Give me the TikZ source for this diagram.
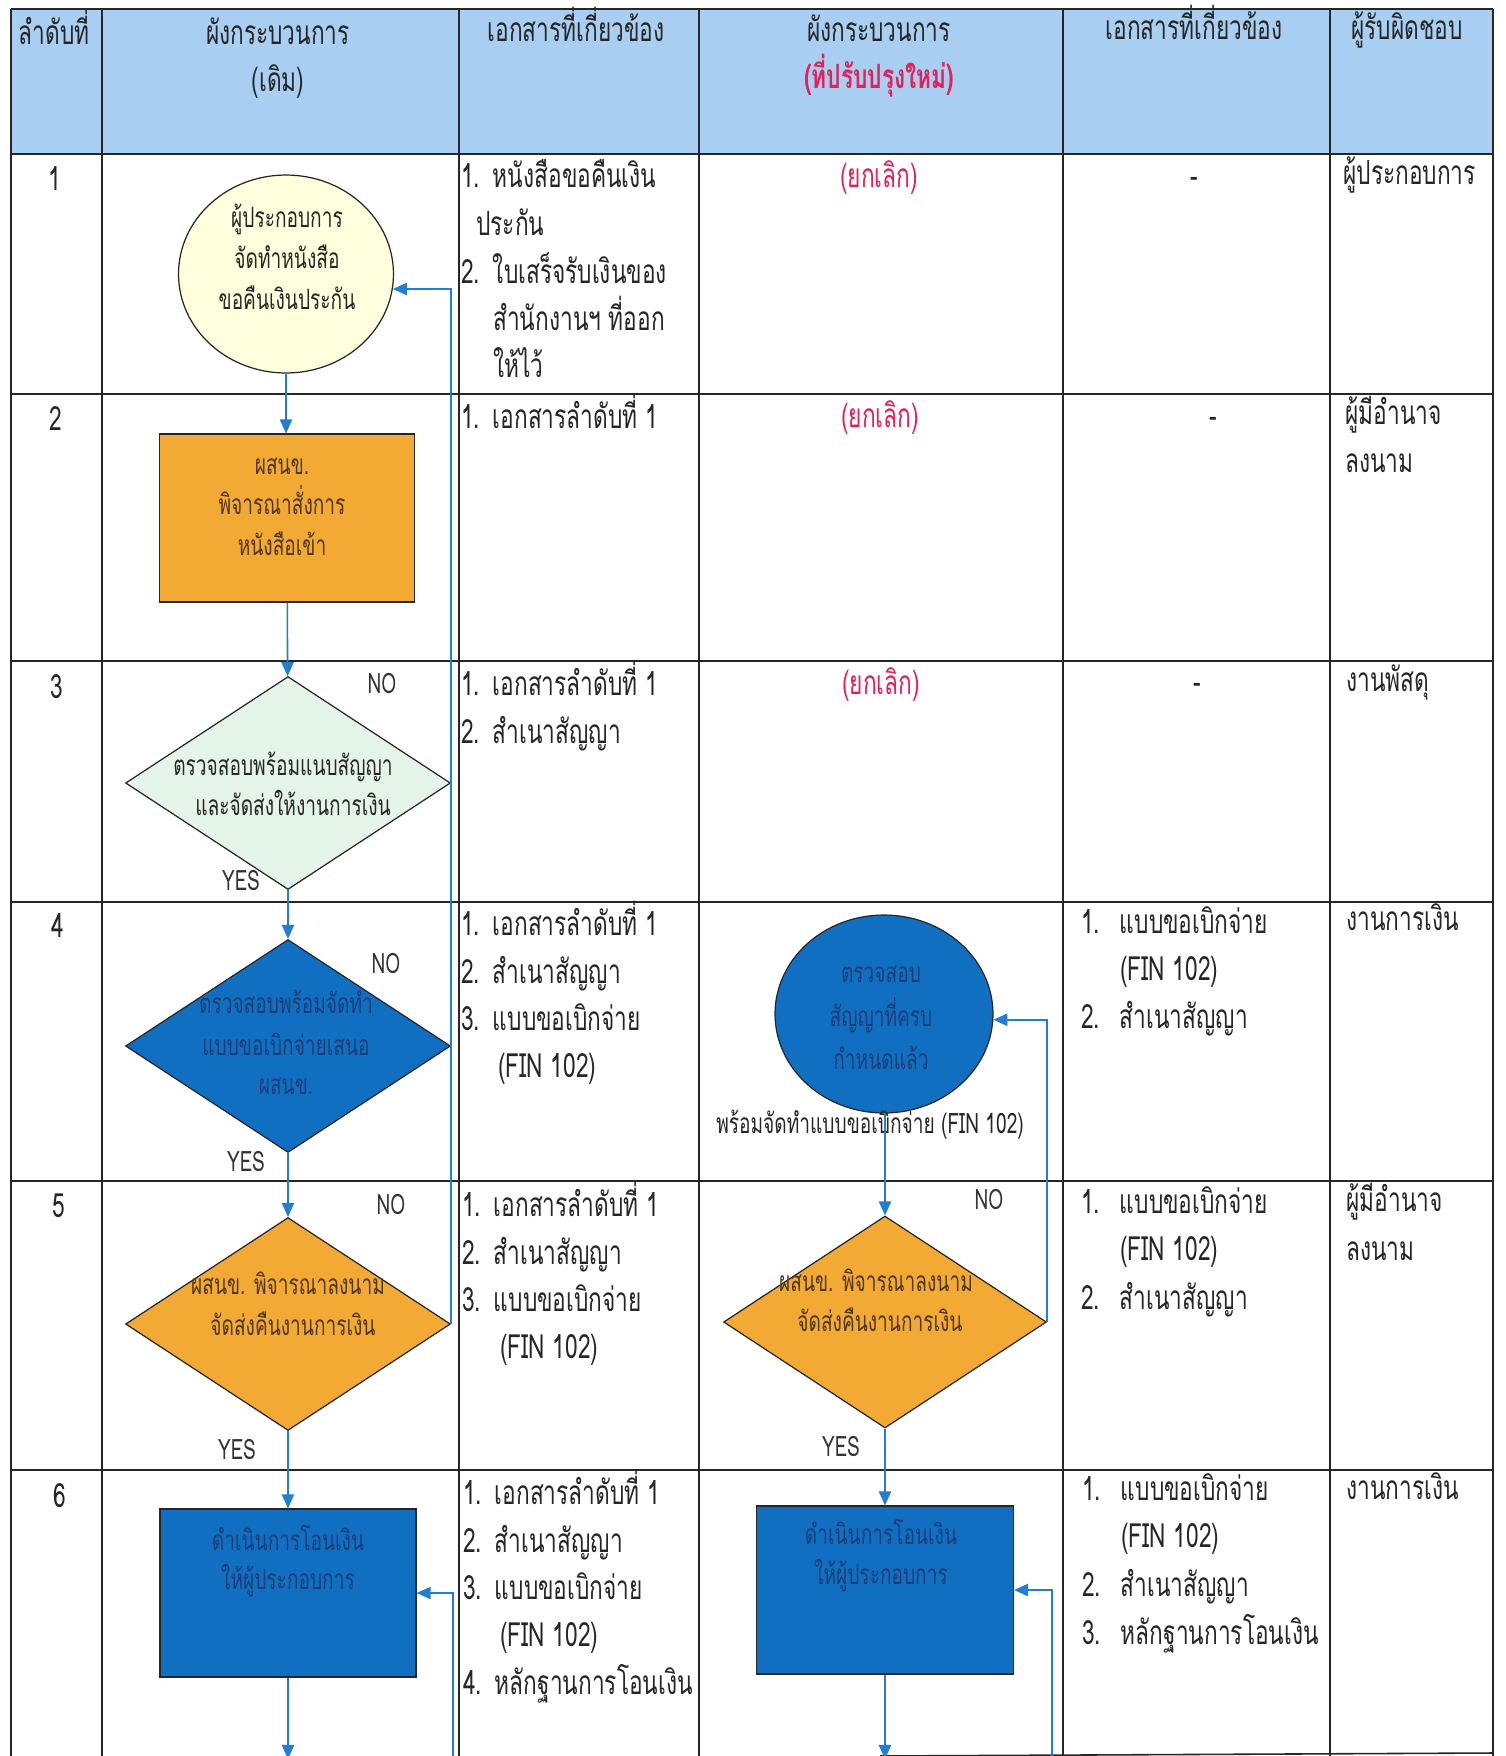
\documentclass[tikz,border=0pt]{standalone}
\usepackage{fontspec}
\setmainfont[Script=Thai,FakeStretch=0.68]{Loma}
\usetikzlibrary{shapes.geometric,arrows.meta}
\definecolor{hdr}{RGB}{168,207,241}
\definecolor{orng}{RGB}{243,170,52}
\definecolor{bfill}{RGB}{17,111,193}
\definecolor{gfill}{RGB}{228,244,233}
\definecolor{yfill}{RGB}{255,255,222}
\definecolor{lnblue}{RGB}{35,125,210}
\definecolor{redt}{RGB}{228,32,90}
\definecolor{btext}{RGB}{28,62,120}
\definecolor{otext}{RGB}{80,55,25}
\newcommand\itm[1]{\makebox[18pt][l]{#1}}
\newcommand\itr[1]{\makebox[22pt][l]{#1}}
\begin{document}
\begin{tikzpicture}[x=0.02cm,y=-0.02cm,
  tline/.style={line width=0.9pt, draw=black!85},
  flow/.style={draw=lnblue, line width=0.9pt},
  arr/.style={flow, -{Triangle[length=8pt,width=7pt]}},
  body/.style={font=\fontsize{19}{21}\selectfont, inner sep=0pt, text=black!85, yshift=-3.5pt},
  bl/.style={body, anchor=mid west},
  shtxt/.style={font=\fontsize{16}{18}\selectfont, inner sep=0pt, anchor=mid, yshift=-3pt},
  yn/.style={font=\fontsize{16}{18}\selectfont, inner sep=0pt, anchor=mid, text=black!80, yshift=-3pt},
  shp/.style={draw=black!85, line width=0.7pt, inner sep=0pt},
  dia/.style={shp, diamond, minimum width=6.5cm, minimum height=4.26cm},
  box/.style={shp, rectangle, minimum width=5.12cm, minimum height=3.36cm},
  ell/.style={shp, ellipse, minimum width=4.3cm, minimum height=3.96cm}]
\useasboundingbox (0,0) rectangle (1506,1756);
\fill[white] (0,0) rectangle (1506,1756);
\fill[hdr] (11,9) rectangle (1493,154);
\foreach \x in {11,102,459,699,1063,1330,1493} \draw[tline] (\x,9) -- (\x,1756);
\foreach \y in {9,154,394,661,902,1181,1470} \draw[tline] (11,\y) -- (1493,\y);
\draw[tline] (880,1756) -- (1493,1753);

% header
\node[body,anchor=mid] (h1) at (54,34) {ลำดับที่};
\node[body,anchor=mid] (h2) at (278,34) {ผังกระบวนการ};
\node[body,anchor=mid] (h2b) at (278,81) {(เดิม)};
\node[body,anchor=mid] (h3) at (576,31) {เอกสารที่เกี่ยวข้อง};
\node[body,anchor=mid] (h4) at (879,31) {ผังกระบวนการ};
\node[body,anchor=mid,text=redt,font=\fontsize{19}{21}\selectfont\bfseries] (h4b) at (879,78) {(ที่ปรับปรุงใหม่)};
\node[body,anchor=mid] (h5) at (1194,29) {เอกสารที่เกี่ยวข้อง};
\node[body,anchor=mid] (h6) at (1407,29) {ผู้รับผิดชอบ};

% row numbers
\node[body,anchor=mid] (n1) at (55,180) {1};
\node[body,anchor=mid] (n2) at (56,420) {2};
\node[body,anchor=mid] (n3) at (57,688) {3};
\node[body,anchor=mid] (n4) at (58,927) {4};
\node[body,anchor=mid] (n5) at (59,1207) {5};
\node[body,anchor=mid] (n6) at (60,1497) {6};

% shapes, old flow
\node[ell, fill=yfill] (c1) at (286,274) {};
\node[box, fill=orng, minimum width=5.1cm] (b2) at (287,518) {};
\node[dia, fill=gfill] (d3) at (288,783) {};
\node[dia, fill=bfill] (d4) at (288,1046) {};
\node[dia, fill=orng] (d5) at (288,1324) {};
\node[box, fill=bfill] (b6) at (288,1593) {};
% shapes, new flow
\node[ell, fill=bfill, minimum width=4.36cm] (c4) at (884,1014) {};
\node[dia, fill=orng, minimum width=6.46cm, minimum height=4.24cm] (d5r) at (885,1322) {};
\node[box, fill=bfill, minimum width=5.14cm] (b6r) at (885,1590) {};

% shape texts
\node[shtxt,text=black!85] (c1a) at (287,218) {ผู้ประกอบการ};
\node[shtxt,text=black!85] (c1b) at (287,259) {จัดทำหนังสือ};
\node[shtxt,text=black!85] (c1c) at (287,300) {ขอคืนเงินประกัน};
\node[shtxt,text=otext] (b2a) at (282,465) {ผสนข.};
\node[shtxt,text=otext] (b2b) at (282,505) {พิจารณาสั่งการ};
\node[shtxt,text=otext] (b2c) at (282,546) {หนังสือเข้า};
\node[shtxt,text=black!85] (d3a) at (283,766) {ตรวจสอบพร้อมแนบสัญญา};
\node[shtxt,text=black!85] (d3b) at (293,806) {และจัดส่งให้งานการเงิน};
\node[shtxt,text=btext] (d4a) at (286,1004) {ตรวจสอบพร้อมจัดทำ};
\node[shtxt,text=btext] (d4b) at (286,1046) {แบบขอเบิกจ่ายเสนอ};
\node[shtxt,text=btext] (d4c) at (286,1085) {ผสนข.};
\node[shtxt,text=otext] (d5a) at (288,1285) {ผสนข. พิจารณาลงนาม};
\node[shtxt,text=otext] (d5b) at (293,1326) {จัดส่งคืนงานการเงิน};
\node[shtxt,text=btext] (b6a) at (288,1541) {ดำเนินการโอนเงิน};
\node[shtxt,text=btext] (b6b) at (288,1580) {ให้ผู้ประกอบการ};
\node[shtxt,text=btext] (c4a) at (881,973) {ตรวจสอบ};
\node[shtxt,text=btext] (c4b) at (881,1017) {สัญญาที่ครบ};
\node[shtxt,text=btext] (c4c) at (881,1060) {กำหนดแล้ว};
\node[shtxt,text=black!85] (cap) at (870,1124) {พร้อมจัดทำแบบขอเบิกจ่าย (FIN 102)};
\node[shtxt,text=otext] (d5ra) at (876,1282) {ผสนข. พิจารณาลงนาม};
\node[shtxt,text=otext] (d5rb) at (880,1322) {จัดส่งคืนงานการเงิน};
\node[shtxt,text=btext] (b6ra) at (881,1535) {ดำเนินการโอนเงิน};
\node[shtxt,text=btext] (b6rb) at (881,1575) {ให้ผู้ประกอบการ};

% YES / NO
\node[yn] (no3) at (382,684) {NO};
\node[yn] (ye3) at (241,881) {YES};
\node[yn] (no4) at (386,964) {NO};
\node[yn] (ye4) at (246,1162) {YES};
\node[yn] (no5) at (391,1205) {NO};
\node[yn] (ye5) at (237,1450) {YES};
\node[yn] (no5r) at (989,1200) {NO};
\node[yn] (ye5r) at (841,1447) {YES};

% column 3 documents
\node[bl] (a1a) at (461,177) {\itm{1.}หนังสือขอคืนเงิน};
\node[bl] (a1b) at (476,225) {ประกัน};
\node[bl] (a1c) at (461,273) {\itm{2.}ใบเสร็จรับเงินของ};
\node[bl] (a1d) at (493,320) {สำนักงานฯ ที่ออก};
\node[bl] (a1e) at (493,367) {ให้ไว้};
\node[bl] (a2a) at (461,418) {\itm{1.}เอกสารลำดับที่ 1};
\node[bl] (a3a) at (461,685) {\itm{1.}เอกสารลำดับที่ 1};
\node[bl] (a3b) at (461,733) {\itm{2.}สำเนาสัญญา};
\node[bl] (a4a) at (461,925) {\itm{1.}เอกสารลำดับที่ 1};
\node[bl] (a4b) at (461,973) {\itm{2.}สำเนาสัญญา};
\node[bl] (a4c) at (461,1020) {\itm{3.}แบบขอเบิกจ่าย};
\node[bl] (a4d) at (498,1067) {(FIN 102)};
\node[bl] (a5a) at (462,1206) {\itm{1.}เอกสารลำดับที่ 1};
\node[bl] (a5b) at (462,1254) {\itm{2.}สำเนาสัญญา};
\node[bl] (a5c) at (462,1301) {\itm{3.}แบบขอเบิกจ่าย};
\node[bl] (a5d) at (500,1348) {(FIN 102)};
\node[bl] (a6a) at (463,1494) {\itm{1.}เอกสารลำดับที่ 1};
\node[bl] (a6b) at (463,1542) {\itm{2.}สำเนาสัญญา};
\node[bl] (a6c) at (463,1589) {\itm{3.}แบบขอเบิกจ่าย};
\node[bl] (a6d) at (500,1636) {(FIN 102)};
\node[bl] (a6e) at (463,1684) {\itm{4.}หลักฐานการโอนเงิน};

% column 4 cancelled
\node[body,anchor=mid,text=redt] (x1) at (879,177) {(ยกเลิก)};
\node[body,anchor=mid,text=redt] (x2) at (880,417) {(ยกเลิก)};
\node[body,anchor=mid,text=redt] (x3) at (881,684) {(ยกเลิก)};

% column 5 documents
\node[body,anchor=mid] (m1) at (1194,177) {-};
\node[body,anchor=mid] (m2) at (1213,417) {-};
\node[body,anchor=mid] (m3) at (1197,683) {-};
\node[bl] (r4a) at (1081,923) {\itr{1.}แบบขอเบิกจ่าย};
\node[bl] (r4b) at (1120,970) {(FIN 102)};
\node[bl] (r4c) at (1081,1018) {\itr{2.}สำเนาสัญญา};
\node[bl] (r5a) at (1081,1203) {\itr{1.}แบบขอเบิกจ่าย};
\node[bl] (r5b) at (1120,1250) {(FIN 102)};
\node[bl] (r5c) at (1081,1299) {\itr{2.}สำเนาสัญญา};
\node[bl] (r6a) at (1082,1490) {\itr{1.}แบบขอเบิกจ่าย};
\node[bl] (r6b) at (1121,1537) {(FIN 102)};
\node[bl] (r6c) at (1082,1586) {\itr{2.}สำเนาสัญญา};
\node[bl] (r6d) at (1082,1634) {\itr{3.}หลักฐานการโอนเงิน};

% column 6 responsible
\node[bl] (p1) at (1343,174) {ผู้ประกอบการ};
\node[bl] (p2a) at (1345,414) {ผู้มีอำนาจ};
\node[bl] (p2b) at (1345,462) {ลงนาม};
\node[bl] (p3) at (1346,681) {งานพัสดุ};
\node[bl] (p4) at (1346,920) {งานการเงิน};
\node[bl] (p5a) at (1346,1201) {ผู้มีอำนาจ};
\node[bl] (p5b) at (1346,1250) {ลงนาม};
\node[bl] (p6) at (1346,1489) {งานการเงิน};

% connectors, old flow
\coordinate (e6) at (288,1759);
\coordinate (s6) at (453,1760);
\draw[arr] (c1.south) -- (c1.south |- b2.north);
\draw[arr] (b2) -- (d3);
\draw[arr] (d3) -- (d4);
\draw[arr] (d4) -- (d5);
\draw[arr] (d5) -- (b6);
\draw[arr] (b6) -- (e6);
\draw[arr] (d5.east) |- (c1.-8);
\draw[arr] (s6) |- (b6.east);
% connectors, new flow
\coordinate (e6r) at (885,1759);
\coordinate (s6r) at (1052,1760);
\draw[arr] (c4.south -| d5r.north) -- (d5r.north);
\draw[arr] (d5r) -- (b6r);
\draw[arr] (b6r) -- (e6r);
\draw[arr] (d5r.east) |- (c4.-3);
\draw[arr] (s6r) |- (b6r.east);
\end{tikzpicture}
\end{document}
